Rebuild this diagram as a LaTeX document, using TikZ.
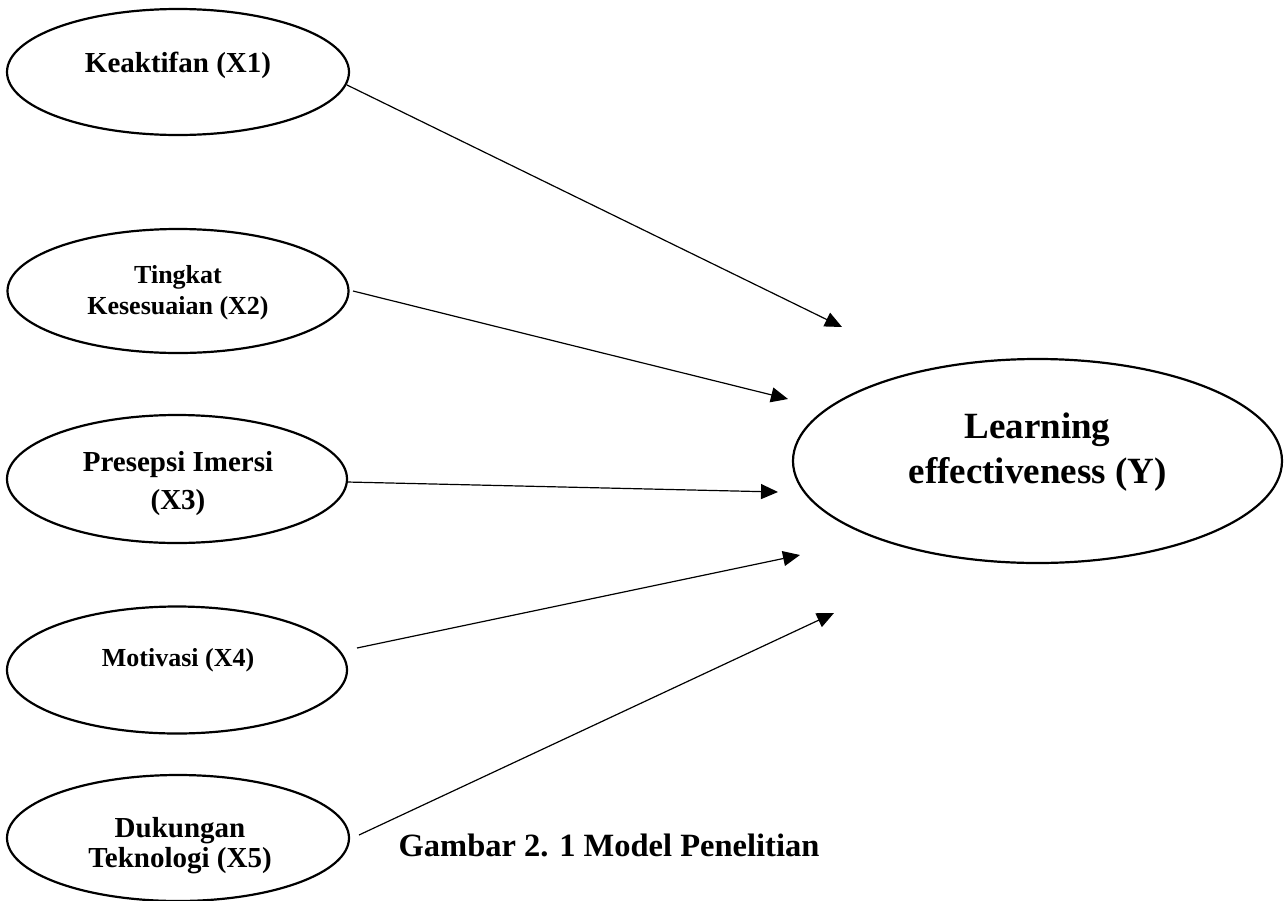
\documentclass[tikz,border=0pt]{standalone}
\usepackage{fontspec}
\setmainfont{Liberation Serif}
\usetikzlibrary{shapes.geometric,arrows.meta}
\begin{document}
\begin{tikzpicture}[x=1pt,y=-1pt,
  var/.style={draw, ellipse, line width=2.2pt, inner sep=0pt, outer sep=0pt},
  lab/.style={align=center, inner sep=0pt},
  arr/.style={line width=1.2pt, -{Triangle[length=17pt,width=15pt]}}]
\useasboundingbox (0,0) rectangle (1288,900);
% ellipses
\node[var, minimum width=342pt, minimum height=126pt] (x1) at (178,72) {};
\node[var, minimum width=341pt, minimum height=124pt] (x2) at (178,291) {};
\node[var, minimum width=340pt, minimum height=128pt] (x3) at (177,479) {};
\node[var, minimum width=340pt, minimum height=127pt] (x4) at (177,670) {};
\node[var, minimum width=342pt, minimum height=126pt] (x5) at (178,838) {};
\node[var, minimum width=489pt, minimum height=204pt] (y) at (1037.5,461) {};
% labels
\node[lab, font=\fontsize{29}{34}\selectfont\bfseries] (x1t) at (178,65) {Keaktifan (X1)};
\node[lab, font=\fontsize{26}{31}\selectfont\bfseries] (x2t) at (178,292.5) {Tingkat\\Kesesuaian (X2)};
\node[lab, font=\fontsize{29}{38}\selectfont\bfseries] (x3t) at (178,484) {Presepsi Imersi\\(X3)};
\node[lab, font=\fontsize{26}{31}\selectfont\bfseries] (x4t) at (178,660) {Motivasi (X4)};
\begin{scope}
\clip (0,760) rectangle (1288,873);
\node[lab, font=\fontsize{29}{30}\selectfont\bfseries] (x5t) at (180,846) {Dukungan\\Teknologi (X5)};
\end{scope}
\node[lab, font=\fontsize{37}{45}\selectfont\bfseries] (yt) at (1037.5,452) {Learning\\effectiveness (Y)};
\node[lab, font=\fontsize{32.5}{38}\selectfont\bfseries] (cap) at (609,845) {Gambar 2. 1 Model Penelitian};
% connector ends
\coordinate (s1) at (347,85);  \coordinate (t1) at (842,327);
\coordinate (s2) at (353,291); \coordinate (t2) at (788,399);
\coordinate (s3) at (347,482); \coordinate (t3) at (778,492);
\coordinate (s4) at (357,648); \coordinate (t4) at (800,555);
\coordinate (s5) at (359,835); \coordinate (t5) at (834,613);
\draw[arr] (s1) -- (t1);
\draw[arr] (s2) -- (t2);
\draw[arr] (s3) -- (t3);
\draw[arr] (s4) -- (t4);
\draw[arr] (s5) -- (t5);
\end{tikzpicture}
\end{document}
